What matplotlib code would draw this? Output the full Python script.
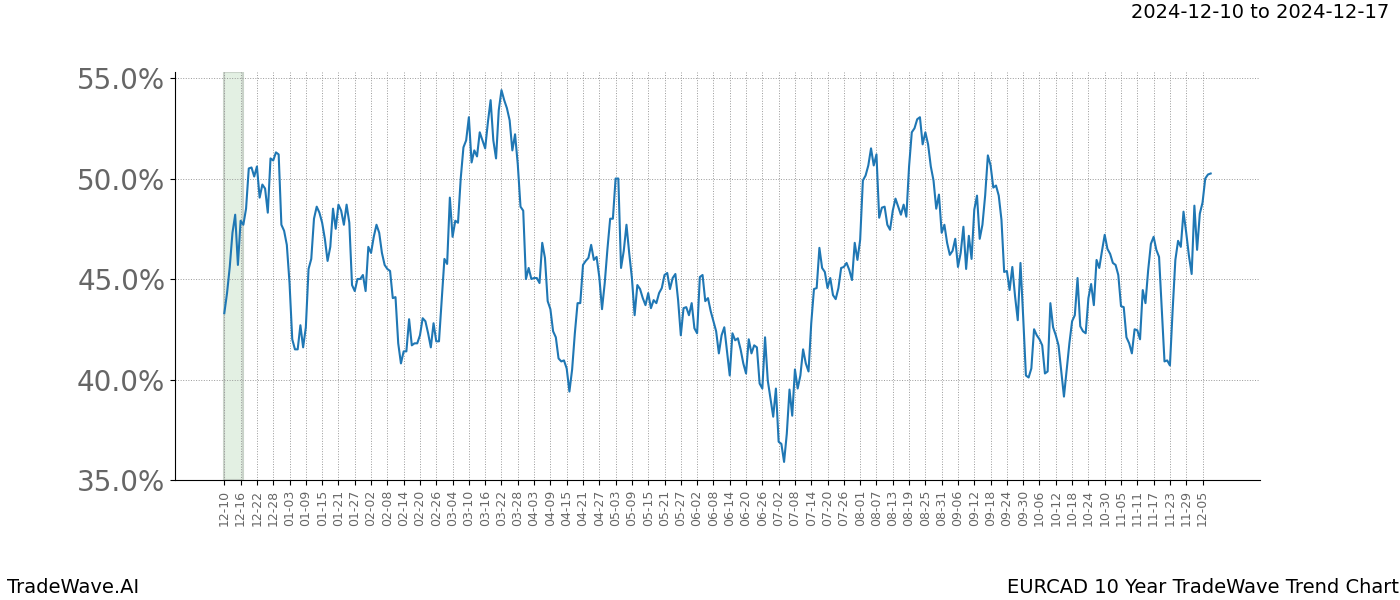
import pandas as pd
import matplotlib
matplotlib.use("Agg")
import matplotlib.pyplot as plt
from matplotlib.ticker import FuncFormatter

# --------------------------------------------------------
# Données (en %)
# --------------------------------------------------------
start_date = "2024-12-10"
window_label = "2024-12-10 to 2024-12-17"
window_days = (0, 7)

values = [
    # 12-10 .. 02-08
    43.3, 44.3, 45.6, 47.3, 48.2, 45.7, 47.9, 47.7, 48.5, 50.5,
    50.55, 50.1, 50.6, 49.05, 49.7, 49.5, 48.3, 51.0, 50.9, 51.3,
    51.2, 47.7, 47.4, 46.7, 44.8, 42.0, 41.5, 41.5, 42.7, 41.6,
    42.6, 45.5, 46.0, 48.0, 48.6, 48.3, 47.8, 47.0, 45.9, 46.6,
    48.5, 47.5, 48.7, 48.4, 47.7, 48.7, 47.8, 44.7, 44.4, 45.0,
    45.0, 45.2, 44.4, 46.6, 46.3, 47.1, 47.7, 47.3, 46.3, 45.7,
    45.5,
    # 02-09 .. 04-10
    45.4, 44.05, 44.1, 41.8, 40.8, 41.4, 41.4, 43.0, 41.7, 41.8,
    41.8, 42.2, 43.05, 42.9, 42.3, 41.6, 42.8, 41.9, 41.9, 43.97,
    46.0, 45.75, 49.05, 47.1, 47.9, 47.8, 50.0, 51.55, 51.9, 53.05,
    50.8, 51.4, 51.1, 52.3, 51.9, 51.5, 52.8, 53.9, 51.9, 51.0,
    53.4, 54.4, 53.9, 53.5, 52.9, 51.4, 52.2, 50.7, 48.6, 48.4,
    45.0, 45.55, 45.0, 45.05, 45.05, 44.8, 46.8, 46.05, 43.9, 43.5,
    42.4,
    # 04-11 .. 06-10
    42.1, 41.05, 40.9, 40.95, 40.55, 39.4, 40.5, 42.3, 43.8, 43.8,
    45.7, 45.9, 46.05, 46.7, 45.95, 46.1, 45.1, 43.5, 44.8, 46.5,
    48.0, 48.0, 50.0, 50.0, 45.55, 46.4, 47.7, 46.3, 45.05, 43.2,
    44.7, 44.5, 44.05, 43.7, 44.3, 43.55, 43.95, 43.8, 44.3, 44.55,
    45.2, 45.3, 44.5, 45.05, 45.25, 43.95, 42.2, 43.55, 43.6, 43.2,
    43.8, 42.55, 42.3, 45.1, 45.2, 43.9, 44.05, 43.4, 42.9, 42.4,
    41.3,
    # 06-11 .. 08-10
    42.2, 42.6, 41.4, 40.2, 42.3, 41.95, 42.05, 41.5, 40.8, 40.3,
    42.0, 41.3, 41.7, 41.6, 39.8, 39.55, 42.1, 39.95, 39.05, 38.15,
    39.55, 36.9, 36.8, 35.9, 37.3, 39.5, 38.2, 40.5, 39.55, 40.2,
    41.5, 40.8, 40.4, 42.8, 44.5, 44.55, 46.55, 45.55, 45.35, 44.55,
    45.05, 44.2, 44.0, 44.55, 45.55, 45.6, 45.8, 45.45, 44.95, 46.8,
    45.95, 46.95, 49.9, 50.15, 50.65, 51.5, 50.65, 51.2, 48.05, 48.55,
    48.6,
    # 08-11 .. 10-10
    47.7, 47.45, 48.4, 49.0, 48.6, 48.2, 48.7, 48.1, 50.6, 52.3,
    52.5, 52.95, 53.05, 51.7, 52.3, 51.7, 50.6, 49.9, 48.5, 49.2,
    47.3, 47.7, 46.8, 46.2, 46.4, 47.0, 45.6, 46.3, 47.6, 45.5,
    47.15, 46.0, 48.45, 49.15, 47.0, 47.7, 49.15, 51.15, 50.65, 49.55,
    49.65, 49.15, 47.95, 45.35, 45.4, 44.45, 45.6, 44.15, 42.95, 45.8,
    43.1, 40.2, 40.1, 40.55, 42.5, 42.2, 42.0, 41.7, 40.3, 40.4,
    43.8,
    # 10-11 .. 12-08
    42.6, 42.2, 41.7, 40.45, 39.15, 40.45, 41.8, 42.9, 43.2, 45.05,
    42.65, 42.4, 42.3, 44.05, 44.75, 43.7, 45.95, 45.55, 46.4, 47.2,
    46.5, 46.25, 45.8, 45.7, 45.2, 43.65, 43.6, 42.1, 41.8, 41.3,
    42.5, 42.45, 42.0, 44.45, 43.8, 45.45, 46.75, 47.1, 46.45, 46.1,
    43.45, 40.9, 40.95, 40.7, 43.45, 45.95, 46.9, 46.6, 48.35, 47.3,
    46.15, 45.25, 48.65, 46.45, 48.25, 48.8, 50.0, 50.2, 50.25,
]

dates = pd.date_range(start_date, periods=len(values), freq="D")
x = list(range(len(values)))
tick_pos = x[::6]
tick_labels = [d.strftime("%m-%d") for d in dates[::6]]

# --------------------------------------------------------
# Figure
# --------------------------------------------------------
fig, ax = plt.subplots(figsize=(14, 6), dpi=100)
fig.subplots_adjust(left=0.125, right=0.9, top=0.88, bottom=0.2)

ax.axvspan(window_days[0], window_days[1], facecolor="#e3f0e3",
           edgecolor="#c9d3c9", linewidth=1.5, zorder=1)
ax.plot(x, values, color="#1f77b4", linewidth=1.5, zorder=3)

ax.set_ylim(35, 55.3)
ax.set_yticks([35, 40, 45, 50, 55])
ax.yaxis.set_major_formatter(FuncFormatter(lambda v, _: f"{v:.1f}%"))
ax.set_xticks(tick_pos)
ax.set_xticklabels(tick_labels, rotation=90)

ax.tick_params(axis="y", labelsize=20, labelcolor="#666666", color="black")
ax.tick_params(axis="x", labelsize=9, labelcolor="#666666")
ax.grid(True, color="#999999", linestyle=":", linewidth=0.7)
ax.spines["top"].set_visible(False)
ax.spines["right"].set_visible(False)

fig.text(0.992, 0.98, window_label, ha="right", va="center", fontsize=14)
fig.text(0.005, 0.005, "TradeWave.AI", ha="left", va="bottom", fontsize=14)
fig.text(0.999, 0.005, "EURCAD 10 Year TradeWave Trend Chart",
         ha="right", va="bottom", fontsize=14)

fig.savefig("out.png")
